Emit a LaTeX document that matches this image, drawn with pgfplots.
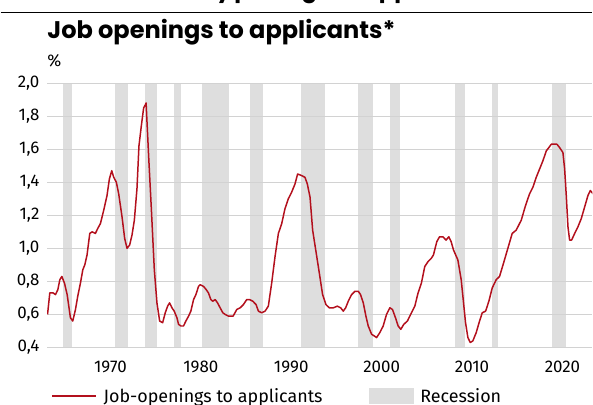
\documentclass[border=0pt]{standalone}
\usepackage{fontspec}
\setmainfont{Fira Sans}
\newfontfamily\titlefont{Poppins}
\usepackage{pgfplots}
\pgfplotsset{compat=1.18}
\definecolor{linered}{HTML}{B3101D}
\definecolor{recgray}{HTML}{DEDEDE}
\definecolor{gridgray}{HTML}{D2D2D2}
\newcommand{\lblfont}{\fontsize{17}{20}\selectfont}
\newcommand{\legfont}{\fontsize{18}{21}\selectfont}
\newcommand{\nodepth}[1]{\raisebox{0pt}[\height][0pt]{#1}}
\begin{document}
\begin{tikzpicture}
\path (0,0) rectangle (593bp,405bp);
% cut-off header above
\node[anchor=base west, inner sep=0pt] at (216bp,404.5bp) {\raisebox{3bp}[0pt][0pt]{\makebox[0pt][r]{\titlefont\bfseries\fontsize{23}{26}\selectfont Labour market: monthl\rlap{y}}}};
\node[anchor=base west, inner sep=0pt] at (219bp,404.5bp) {\raisebox{3bp}[0pt][0pt]{\makebox[0pt][l]{\titlefont\bfseries\fontsize{23}{26}\selectfont openings to applicants}}};
\draw[black, line width=1.4bp] (0bp,392.3bp) -- (593bp,392.3bp);
% title
\node[anchor=base west, inner sep=0pt] at (46.7bp,366.9bp) {\titlefont\bfseries\fontsize{24.2}{28}\selectfont Job openings to applicants*};
\node[anchor=base west, inner sep=0pt] at (46.7bp,338.3bp) {\lblfont\%};
\begin{axis}[
  at={(46.5bp,56.7bp)}, anchor=south west,
  scale only axis, width=546.5bp, height=265bp,
  xmin=1963.0, xmax=2023.3, ymin=0.4, ymax=2.0,
  axis line style={draw=none},
  major tick length=0pt,
  tick style={draw=none},
  clip=true,
  ytick={0.4,0.6,0.8,1.0,1.2,1.4,1.6,1.8,2.0},
  xtick={1970,1980,1990,2000,2010,2020},
  xticklabels={1970,1980,1990,2000,2010,2020},
  tick label style={font=\lblfont},
  yticklabel style={anchor=east, inner sep=0pt, xshift=-7.5bp,
    /pgf/number format/.cd, fixed, fixed zerofill, precision=1, use comma, assume math mode=true},
  xticklabel style={anchor=base, inner sep=0pt, yshift=-25bp},
  legend columns=2,
  legend style={at={(0.0077,-0.1838)}, anchor=west, draw=none, fill=none,
    inner sep=0pt, outer sep=0pt, font=\legfont,
    nodes={inner sep=0pt},
    /tikz/every odd column/.append style={column sep=6.7bp},
    /tikz/every even column/.append style={column sep=47bp}},
  legend cell align=left,
]
% recessions
\addplot[draw=none, fill=recgray, forget plot] coordinates {(1964.79,0.4) (1964.79,2.0) (1965.79,2.0) (1965.79,0.4)} -- cycle;
\addplot[draw=none, fill=recgray, forget plot] coordinates {(1970.54,0.4) (1970.54,2.0) (1971.96,2.0) (1971.96,0.4)} -- cycle;
\addplot[draw=none, fill=recgray, forget plot] coordinates {(1973.88,0.4) (1973.88,2.0) (1975.21,2.0) (1975.21,0.4)} -- cycle;
\addplot[draw=none, fill=recgray, forget plot] coordinates {(1977.04,0.4) (1977.04,2.0) (1977.79,2.0) (1977.79,0.4)} -- cycle;
\addplot[draw=none, fill=recgray, forget plot] coordinates {(1980.13,0.4) (1980.13,2.0) (1983.13,2.0) (1983.13,0.4)} -- cycle;
\addplot[draw=none, fill=recgray, forget plot] coordinates {(1985.46,0.4) (1985.46,2.0) (1986.88,2.0) (1986.88,0.4)} -- cycle;
\addplot[draw=none, fill=recgray, forget plot] coordinates {(1991.13,0.4) (1991.13,2.0) (1993.79,2.0) (1993.79,0.4)} -- cycle;
\addplot[draw=none, fill=recgray, forget plot] coordinates {(1997.38,0.4) (1997.38,2.0) (1999.04,2.0) (1999.04,0.4)} -- cycle;
\addplot[draw=none, fill=recgray, forget plot] coordinates {(2000.88,0.4) (2000.88,2.0) (2002.04,2.0) (2002.04,0.4)} -- cycle;
\addplot[draw=none, fill=recgray, forget plot] coordinates {(2008.13,0.4) (2008.13,2.0) (2009.21,2.0) (2009.21,0.4)} -- cycle;
\addplot[draw=none, fill=recgray, forget plot] coordinates {(2012.21,0.4) (2012.21,2.0) (2012.88,2.0) (2012.88,0.4)} -- cycle;
\addplot[draw=none, fill=recgray, forget plot] coordinates {(2018.79,0.4) (2018.79,2.0) (2020.38,2.0) (2020.38,0.4)} -- cycle;
% horizontal grid lines over the recession bands
\addplot[gridgray, line width=0.9bp, forget plot] coordinates {(1963.0,0.4) (2023.3,0.4)};
\addplot[gridgray, line width=0.9bp, forget plot] coordinates {(1963.0,0.6) (2023.3,0.6)};
\addplot[gridgray, line width=0.9bp, forget plot] coordinates {(1963.0,0.8) (2023.3,0.8)};
\addplot[gridgray, line width=0.9bp, forget plot] coordinates {(1963.0,1.0) (2023.3,1.0)};
\addplot[gridgray, line width=0.9bp, forget plot] coordinates {(1963.0,1.2) (2023.3,1.2)};
\addplot[gridgray, line width=0.9bp, forget plot] coordinates {(1963.0,1.4) (2023.3,1.4)};
\addplot[gridgray, line width=0.9bp, forget plot] coordinates {(1963.0,1.6) (2023.3,1.6)};
\addplot[gridgray, line width=0.9bp, forget plot] coordinates {(1963.0,1.8) (2023.3,1.8)};
\addplot[gridgray, line width=0.9bp, forget plot] coordinates {(1963.0,2.0) (2023.3,2.0)};
% ratio
\addplot[linered, line width=1.5bp, line join=round, mark=none,
  legend image code/.code={\draw[linered, line width=1.5bp] (0bp,0bp) -- (44.3bp,0bp);}] coordinates {
(1963.05,0.60) (1963.30,0.73) (1963.67,0.73) (1963.93,0.72) (1964.19,0.75) (1964.41,0.81)
(1964.63,0.83) (1964.92,0.79) (1965.22,0.72) (1965.58,0.58) (1965.84,0.56) (1966.14,0.63)
(1966.39,0.71) (1966.69,0.79) (1966.95,0.87) (1967.17,0.90) (1967.42,0.96) (1967.72,1.09)
(1967.98,1.10) (1968.34,1.09) (1968.60,1.12) (1968.90,1.15) (1969.26,1.23) (1969.63,1.32)
(1969.89,1.42) (1970.15,1.47) (1970.37,1.43) (1970.66,1.40) (1970.92,1.33) (1971.29,1.19)
(1971.58,1.06) (1971.84,1.00) (1972.13,1.02) (1972.39,1.08) (1972.65,1.17) (1972.94,1.36)
(1973.16,1.62) (1973.42,1.74) (1973.68,1.85) (1973.88,1.87) (1973.95,1.88) (1974.23,1.56)
(1974.53,1.24) (1974.86,0.87) (1975.15,0.67) (1975.45,0.56) (1975.78,0.55) (1976.07,0.61)
(1976.33,0.65) (1976.55,0.67) (1976.81,0.64) (1977.06,0.62) (1977.36,0.58) (1977.54,0.54)
(1977.80,0.53) (1978.09,0.53) (1978.35,0.56) (1978.65,0.59) (1978.90,0.62) (1979.20,0.69)
(1979.46,0.72) (1979.75,0.77) (1979.93,0.78) (1980.30,0.77) (1980.60,0.75) (1980.85,0.73)
(1981.11,0.69) (1981.33,0.68) (1981.59,0.69) (1981.85,0.67) (1982.14,0.64) (1982.44,0.61)
(1982.69,0.60) (1983.06,0.59) (1983.58,0.59) (1983.98,0.63) (1984.35,0.64) (1984.72,0.66)
(1985.08,0.69) (1985.38,0.69) (1985.75,0.68) (1986.11,0.66) (1986.37,0.62) (1986.74,0.61)
(1987.11,0.62) (1987.47,0.65) (1987.84,0.79) (1988.21,0.95) (1988.58,1.09) (1988.95,1.15)
(1989.31,1.24) (1989.68,1.30) (1990.05,1.34) (1990.42,1.39) (1990.71,1.45) (1991.16,1.44)
(1991.52,1.43) (1991.78,1.39) (1992.08,1.31) (1992.37,1.11) (1992.74,0.98) (1993.11,0.85)
(1993.47,0.72) (1993.84,0.66) (1994.21,0.64) (1994.65,0.64) (1995.10,0.65) (1995.47,0.64)
(1995.76,0.62) (1996.02,0.64) (1996.31,0.68) (1996.68,0.72) (1997.05,0.74) (1997.42,0.74)
(1997.67,0.72) (1997.97,0.67) (1998.26,0.59) (1998.52,0.53) (1998.89,0.48) (1999.18,0.47)
(1999.44,0.46) (1999.80,0.49) (2000.17,0.53) (2000.54,0.60) (2000.91,0.64) (2001.20,0.63)
(2001.53,0.58) (2001.83,0.53) (2002.12,0.51) (2002.45,0.54) (2002.85,0.56) (2003.30,0.61)
(2003.67,0.65) (2004.03,0.73) (2004.40,0.79) (2004.77,0.89) (2005.14,0.92) (2005.50,0.94)
(2005.73,0.96) (2006.10,1.04) (2006.40,1.07) (2006.77,1.07) (2007.13,1.05) (2007.43,1.07)
(2007.69,1.04) (2007.95,0.99) (2008.43,0.93) (2008.80,0.81) (2009.06,0.67) (2009.28,0.55)
(2009.54,0.46) (2009.80,0.43) (2010.09,0.44) (2010.46,0.49) (2010.83,0.56) (2011.13,0.61)
(2011.50,0.62) (2011.86,0.68) (2012.23,0.76) (2012.67,0.81) (2013.04,0.83) (2013.48,0.91)
(2013.96,1.00) (2014.44,1.09) (2014.88,1.11) (2015.44,1.17) (2015.92,1.26) (2016.36,1.33)
(2016.73,1.37) (2017.10,1.43) (2017.47,1.48) (2017.84,1.53) (2018.21,1.59) (2018.50,1.61)
(2018.76,1.63) (2019.13,1.63) (2019.39,1.63) (2019.68,1.61) (2020.05,1.58) (2020.24,1.48)
(2020.42,1.32) (2020.61,1.13) (2020.79,1.05) (2021.01,1.05) (2021.35,1.09) (2021.71,1.13)
(2022.08,1.18) (2022.45,1.25) (2022.82,1.32) (2023.08,1.35) (2023.38,1.33)
};
\addlegendentry{\nodepth{Job-openings to applicants}}
\addlegendimage{legend image code/.code={\fill[recgray] (0bp,-7.5bp) rectangle (44bp,7.5bp);}}
\addlegendentry{\nodepth{Recession}}
\end{axis}
\end{tikzpicture}
\end{document}
